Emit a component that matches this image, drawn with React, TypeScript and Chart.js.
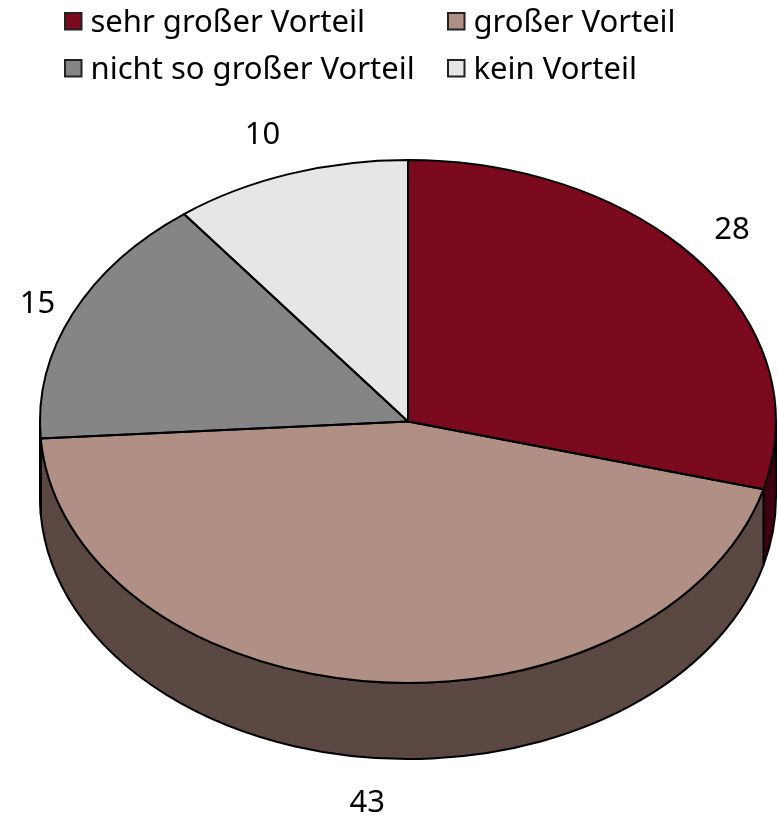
import React, { useEffect, useRef } from "react";
import { Chart, registerables } from "chart.js";

Chart.register(...registerables);

const categories = ["sehr großer Vorteil", "großer Vorteil", "nicht so großer Vorteil", "kein Vorteil"];
const values = [28, 43, 15, 10];
const topColors = ["#7B0A1E", "#B09084", "#858585", "#E6E6E6"];
const sideColors = ["#40000F", "#5B4843", "#444444", "#777777"];

const FONT = '31px "Noto Sans"';
const SQUASH = 261.5 / 368;
const DEPTH = 76;
const LINE = "#000000";
const LINE_W = 2;

// legend layout
const legendCols = [65, 448];
const legendRows = [13, 60];
const BOX = 16.5;

// label offset: multiples of the ellipse radii along each slice's mid angle
const labelFactor = [[1.11, 1.2], [1.13, 1.174], [1.105, 1.085], [1.23, 1.158]];

const pie3d = {
  id: "pie3d",
  beforeDatasetsDraw(chart: any) {
    const { ctx } = chart;
    const arcs = chart.getDatasetMeta(0).data;
    const { x: cx, y: cy, outerRadius: r } = arcs[0].getProps(["x", "y", "outerRadius"], true);
    const ry = r * SQUASH;
    // side wall, built from each slice's own angles
    arcs.forEach((arc: any, i: number) => {
      const { startAngle, endAngle } = arc.getProps(["startAngle", "endAngle"], true);
      const a0 = Math.max(startAngle, 0);
      const a1 = Math.min(endAngle, Math.PI);
      if (a1 <= a0) return;
      ctx.save();
      ctx.beginPath();
      ctx.ellipse(cx, cy, r, ry, 0, a0, a1);
      ctx.ellipse(cx, cy + DEPTH, r, ry, 0, a1, a0, true);
      ctx.closePath();
      ctx.fillStyle = sideColors[i];
      ctx.fill();
      ctx.strokeStyle = LINE;
      ctx.lineWidth = LINE_W;
      ctx.lineJoin = "round";
      ctx.stroke();
      ctx.restore();
    });
    // squash the library's own pie into an ellipse
    ctx.save();
    ctx.translate(cx, cy);
    ctx.scale(1, SQUASH);
    ctx.translate(-cx, -cy);
  },
  afterDatasetsDraw(chart: any) {
    const { ctx } = chart;
    ctx.restore();
    const arcs = chart.getDatasetMeta(0).data;
    arcs.forEach((arc: any, i: number) => {
      const { x: cx, y: cy, outerRadius: r, startAngle, endAngle } = arc.getProps(
        ["x", "y", "outerRadius", "startAngle", "endAngle"],
        true
      );
      const ry = r * SQUASH;
      ctx.save();
      ctx.beginPath();
      ctx.moveTo(cx, cy);
      ctx.ellipse(cx, cy, r, ry, 0, startAngle, endAngle);
      ctx.closePath();
      ctx.strokeStyle = LINE;
      ctx.lineWidth = LINE_W;
      ctx.lineJoin = "round";
      ctx.stroke();
      ctx.restore();

      // value label
      const mid = (startAngle + endAngle) / 2;
      const [fx, fy] = labelFactor[i];
      const lx = cx + Math.cos(mid) * r * fx;
      const ly = cy + Math.sin(mid) * ry * fy + (Math.sin(mid) > 0.9 ? DEPTH : 0);
      ctx.save();
      ctx.font = FONT;
      ctx.fillStyle = "#000";
      ctx.textAlign = "center";
      ctx.textBaseline = "middle";
      ctx.fillText(String(values[i]), lx, ly);
      ctx.restore();
    });

    // two-column legend
    categories.forEach((label, i) => {
      const x = legendCols[i % 2];
      const y = legendRows[Math.floor(i / 2)];
      ctx.save();
      ctx.fillStyle = topColors[i];
      ctx.strokeStyle = "#222222";
      ctx.lineWidth = 2;
      ctx.fillRect(x, y, BOX, BOX);
      ctx.strokeRect(x, y, BOX, BOX);
      ctx.font = FONT;
      ctx.fillStyle = "#000";
      ctx.textAlign = "left";
      ctx.textBaseline = "alphabetic";
      ctx.fillText(label, x + 25.5, y + 19);
      ctx.restore();
    });
  },
};

export default function App() {
  const ref = useRef<HTMLCanvasElement>(null);
  useEffect(() => {
    const chart = new Chart(ref.current as HTMLCanvasElement, {
      type: "pie",
      data: {
        labels: categories,
        datasets: [{ data: values, backgroundColor: topColors, borderWidth: 0 }],
      },
      options: {
        animation: false,
        responsive: false,
        layout: { padding: { left: 40, right: 2, top: 24, bottom: 0 } },
        plugins: { legend: { display: false }, tooltip: { enabled: false } },
      },
      plugins: [pie3d],
    } as any);
    return () => chart.destroy();
  }, []);
  return (
    <canvas
      ref={ref}
      width={778}
      height={819}
      style={{ position: "absolute", left: 0, top: 0, width: 778, height: 819, background: "#fff" }}
    />
  );
}
